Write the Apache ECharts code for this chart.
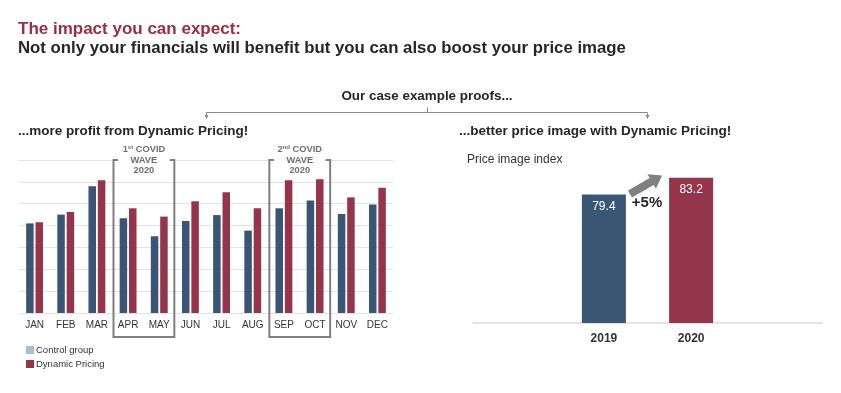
<!DOCTYPE html>
<html><head><meta charset="utf-8">
<script src="https://cdn.jsdelivr.net/npm/echarts@6/dist/echarts.min.js"></script>
<style>html,body{margin:0;padding:0;background:#fff}#c{width:841px;height:393px}</style>
</head><body><div id="c"></div>
<script>
const months = ['JAN','FEB','MAR','APR','MAY','JUN','JUL','AUG','SEP','OCT','NOV','DEC'];
const controlGroup = [4.10,4.50,5.80,4.33,3.51,4.21,4.48,3.77,4.79,5.15,4.53,4.96];
const dynamicPricing = [4.15,4.62,6.07,4.79,4.41,5.11,5.52,4.79,6.07,6.12,5.29,5.73];
const years = ['2019','2020'];
const priceImage = [79.4, 83.2];
const covidWaves = [['APR','MAY','1'], ['SEP','OCT','2']];

const BLUE = '#3b5574', RED = '#94354b', LIGHTBLUE = '#a9bed7', TITLERED = '#9b2d45', DARK = '#262626';
const FONT = 'Liberation Sans';

const chart = echarts.init(document.getElementById('c'), null, {renderer:'canvas'});
const yearCats = [''].concat(years, ['']);
const yearData = [null].concat(priceImage.map((v,i)=>({value:v, itemStyle:{color: i===0?BLUE:RED}})), [null]);

const option = {
  animation:false,
  textStyle:{fontFamily:FONT},
  grid:[
    {left:19, right:448, top:160, bottom:80},
    {left:473, right:19, top:148, bottom:70}
  ],
  legend:{
    orient:'vertical', left:21, top:340, itemWidth:8, itemHeight:8, itemGap:4,
    icon:'rect', textStyle:{fontSize:9.5, color:'#333', fontFamily:FONT, padding:[0,0,0,-3]},
    data:[{name:'Control group', itemStyle:{color:LIGHTBLUE}}, {name:'Dynamic Pricing', itemStyle:{color:RED}}]
  },
  xAxis:[
    {gridIndex:0, type:'category', data:months, axisLine:{show:false}, axisTick:{show:false},
     axisLabel:{fontSize:10, color:'#333', margin:7}},
    {gridIndex:1, type:'category', data:yearCats, axisLine:{lineStyle:{color:'#dcdcdc', width:1.5}}, axisTick:{show:false},
     axisLabel:{fontSize:12, fontWeight:'bold', color:'#333', margin:10}}
  ],
  yAxis:[
    {gridIndex:0, type:'value', min:0, max:7, interval:1, axisLabel:{show:false}, axisLine:{show:false}, axisTick:{show:false},
     splitLine:{lineStyle:{color:'#e3e3e3', width:1}}},
    {gridIndex:1, type:'value', min:50, max:90, axisLabel:{show:false}, axisLine:{show:false}, axisTick:{show:false},
     splitLine:{show:false}}
  ],
  series:[
    {name:'Control group', type:'bar', xAxisIndex:0, yAxisIndex:0, data:controlGroup, barWidth:7.5, barGap:'25%',
     itemStyle:{color:BLUE}},
    {name:'Dynamic Pricing', type:'bar', xAxisIndex:0, yAxisIndex:0, data:dynamicPricing, barWidth:7.5, barGap:'25%',
     itemStyle:{color:RED}},
    {name:'Price image', type:'bar', xAxisIndex:1, yAxisIndex:1, data:yearData, barWidth:44,
     label:{show:true, position:'insideTop', distance:6, color:'#fff', fontSize:12, fontFamily:FONT}}
  ],
  graphic:[]
};
chart.setOption(option);

const g = [
  {type:'text', x:18, y:29, style:{text:'The impact you can expect:', fill:TITLERED, font:'bold 17px '+FONT, verticalAlign:'middle'}},
  {type:'text', x:18, y:48, style:{text:'Not only your financials will benefit but you can also boost your price image', fill:DARK, font:'bold 16.8px '+FONT, verticalAlign:'middle'}},
  {type:'text', x:427, y:96, style:{text:'Our case example proofs...', fill:DARK, font:'bold 13.4px '+FONT, align:'center', verticalAlign:'middle'}},
  {type:'polyline', shape:{points:[[206.5,116],[206.5,112.5],[647.5,112.5],[647.5,116]]}, style:{stroke:'#8a8a8a', lineWidth:1, fill:null}},
  {type:'line', shape:{x1:427.5,y1:107.5,x2:427.5,y2:112.5}, style:{stroke:'#8a8a8a', lineWidth:1}},
  {type:'polygon', shape:{points:[[204.5,115],[208.5,115],[206.5,119]]}, style:{fill:'#8a8a8a'}},
  {type:'polygon', shape:{points:[[645.5,115],[649.5,115],[647.5,119]]}, style:{fill:'#8a8a8a'}},
  {type:'text', x:18, y:131, style:{text:'...more profit from Dynamic Pricing!', fill:DARK, font:'bold 13.5px '+FONT, verticalAlign:'middle'}},
  {type:'text', x:459, y:131, style:{text:'...better price image with Dynamic Pricing!', fill:DARK, font:'bold 13.5px '+FONT, verticalAlign:'middle'}},
  {type:'text', x:467, y:160, style:{text:'Price image index', fill:'#333', font:'12px '+FONT, verticalAlign:'middle'}},
  // growth arrow
  {type:'polygon', x:630, y:194, rotation:30*Math.PI/180,
   shape:{points:[[0,-4],[25,-4],[25,-8.5],[37,0],[25,8.5],[25,4],[0,4]]}, style:{fill:'#808080'}},
  {type:'text', x:647, y:203, style:{text:'+5%', fill:DARK, font:'bold 15px '+FONT, align:'center', verticalAlign:'middle'}}
];

// COVID wave boxes aligned to category bands
const bandW = chart.convertToPixel({xAxisIndex:0}, months[1]) - chart.convertToPixel({xAxisIndex:0}, months[0]);
const topY = chart.convertToPixel({yAxisIndex:0}, 7);
covidWaves.forEach(w => {
  const x0 = chart.convertToPixel({xAxisIndex:0}, w[0]) - bandW/2 + 1;
  const x1 = chart.convertToPixel({xAxisIndex:0}, w[1]) + bandW/2 - 0.5;
  const yb = 337;
  g.push({type:'rect', shape:{x:x0+5.5, y:topY-6, width:(x1-x0)-11, height:12}, style:{fill:'#fff'}, z:10});
  g.push({type:'polyline', shape:{points:[[x0+4.5,topY],[x0,topY],[x0,yb],[x1,yb],[x1,topY],[x1-4.5,topY]]},
    style:{stroke:'#7f7f7f', lineWidth:2, fill:null}, z:11});
  const cx = (x0+x1)/2;
  const sup = w[2]==='1' ? 'st' : 'nd';
  const st = {fill:'#6e6e6e', font:'bold 9.3px '+FONT, align:'center', verticalAlign:'middle'};
  g.push({type:'text', z:12, x:cx, y:149.5, style:Object.assign({}, st, {
    text:'{n|'+w[2]+'}{s|'+sup+'}{n| COVID}',
    rich:{n:{fill:'#6e6e6e', font:'bold 9.3px '+FONT}, s:{fill:'#6e6e6e', font:'bold 6px '+FONT, padding:[0,0,4,0]}}
  })});
  g.push({type:'text', z:12, x:cx, y:160, style:Object.assign({}, st, {text:'WAVE'})});
  g.push({type:'text', z:12, x:cx, y:170.5, style:Object.assign({}, st, {text:'2020'})});
});
chart.setOption({graphic:g});
</script></body></html>
